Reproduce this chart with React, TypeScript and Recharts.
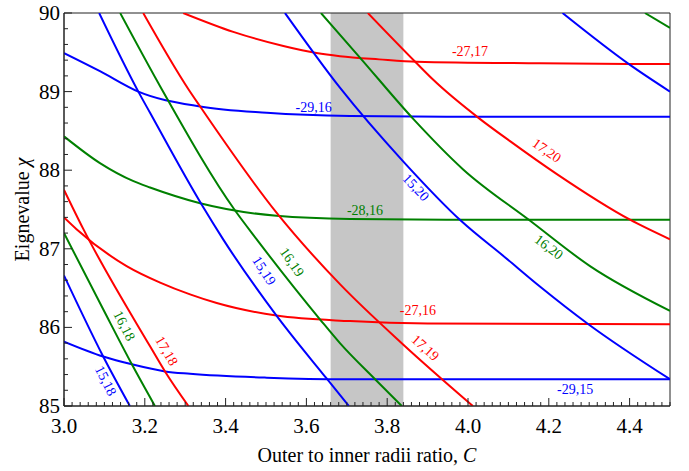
import { LineChart, Line, XAxis, YAxis, ReferenceArea, ReferenceDot } from 'recharts'

// axis ticks
const xTickLabels = [3.0, 3.2, 3.4, 3.6, 3.8, 4.0, 4.2, 4.4]
const yTickLabels = [85, 86, 87, 88, 89, 90]

// shaded band on C
const bandRange = [3.66, 3.84]

// curves, [C, eigenvalue]
const m2717 = [[3.295, 90], [3.419, 89.76], [3.543, 89.58], [3.625, 89.49], [3.683, 89.45], [3.78, 89.41], [3.873, 89.38], [4.178, 89.36], [4.5, 89.35]]
const m2916 = [[3.0, 89.49], [3.089, 89.26], [3.184, 89.0], [3.337, 88.81], [3.502, 88.73], [3.708, 88.69], [4.0, 88.68], [4.5, 88.68]]
const m2816 = [[3.0, 88.43], [3.089, 88.09], [3.172, 87.86], [3.213, 87.78], [3.337, 87.58], [3.526, 87.42], [3.708, 87.38], [4.0, 87.37], [4.5, 87.37]]
const m2716 = [[3.0, 87.4], [3.031, 87.25], [3.155, 86.78], [3.238, 86.57], [3.312, 86.42], [3.378, 86.31], [3.526, 86.15], [3.708, 86.08], [3.9, 86.05], [4.5, 86.04]]
const m2915 = [[3.0, 85.82], [3.097, 85.63], [3.168, 85.53], [3.25, 85.44], [3.312, 85.41], [3.502, 85.36], [3.7, 85.34], [4.5, 85.34]]

const c1518 = [[3.0, 86.66], [3.097, 85.63], [3.163, 85.0]]
const c1618 = [[3.0, 87.2], [3.097, 86.23], [3.168, 85.53], [3.225, 85.0]]
const c1718 = [[3.0, 87.75], [3.048, 87.25], [3.213, 85.76], [3.25, 85.44], [3.308, 85.0]]
const c1519 = [[3.087, 90], [3.184, 89.0], [3.213, 88.73], [3.341, 87.56], [3.394, 87.12], [3.526, 86.15], [3.65, 85.35], [3.705, 85.0]]
const c1619 = [[3.139, 90], [3.242, 89.03], [3.423, 87.49], [3.477, 87.12], [3.634, 86.1], [3.683, 85.8], [3.77, 85.34], [3.836, 85.0]]
const c1719 = [[3.196, 90], [3.308, 89.03], [3.337, 88.81], [3.526, 87.46], [3.683, 86.55], [3.84, 85.78], [4.012, 85.0]]
const c1520 = [[3.547, 90], [3.683, 89.05], [3.84, 88.11], [3.984, 87.35], [4.092, 86.89], [4.178, 86.52], [4.298, 86.04], [4.5, 85.34]]
const c1620 = [[3.636, 90], [3.733, 89.43], [3.865, 88.65], [3.988, 88.01], [4.153, 87.36], [4.302, 86.78], [4.5, 86.21]]
const c1720 = [[3.752, 90], [3.873, 89.36], [3.914, 89.15], [4.03, 88.65], [4.104, 88.37], [4.22, 87.95], [4.401, 87.37], [4.5, 87.12]]
const c1521 = [[4.234, 90], [4.401, 89.34], [4.5, 89.0]]
const c1621 = [[4.438, 90], [4.5, 89.81]]

// curve labels: text, C, eigenvalue, rotation, colour
const curveLabels: [string, number, number, number, string][] = [
  ['-27,17', 4.005, 89.51, 0, 'red'],
  ['-29,16', 3.618, 88.8, 0, 'blue'],
  ['-28,16', 3.745, 87.49, 0, 'green'],
  ['-27,16', 3.876, 86.21, 0, 'red'],
  ['-29,15', 4.265, 85.21, 0, 'blue'],
  ['17,20', 4.195, 88.25, 35, 'red'],
  ['15,20', 3.871, 87.78, 47, 'blue'],
  ['16,20', 4.2, 87.02, 37, 'green'],
  ['17,19', 3.894, 85.74, 42, 'red'],
  ['16,19', 3.564, 86.83, 55, 'green'],
  ['15,19', 3.495, 86.72, 57, 'blue'],
  ['17,18', 3.254, 85.7, 60, 'red'],
  ['16,18', 3.149, 86.02, 63, 'green'],
  ['15,18', 3.103, 85.32, 63, 'blue'],
]

const COLORS: Record<string, string> = { red: '#ff0000', blue: '#0000ff', green: '#008000' }
const FONT = '"Liberation Serif", "Times New Roman", serif'

const series: [number[][], string][] = [
  [m2717, 'red'], [m2916, 'blue'], [m2816, 'green'], [m2716, 'red'], [m2915, 'blue'],
  [c1518, 'blue'], [c1618, 'green'], [c1718, 'red'],
  [c1519, 'blue'], [c1619, 'green'], [c1719, 'red'],
  [c1520, 'blue'], [c1620, 'green'], [c1720, 'red'],
  [c1521, 'blue'], [c1621, 'green'],
]

const toPoints = (arr: number[][]) => arr.map(([x, y]) => ({ x, y }))

// minor ticks every 0.02 on C, every 0.2 on eigenvalue
const xMinor = Array.from({ length: 76 }, (_, i) => +(3 + i * 0.02).toFixed(2))
const yMinor = Array.from({ length: 26 }, (_, i) => +(85 + i * 0.2).toFixed(1))

const isMajorX = (v: number) => xTickLabels.some(t => Math.abs(t - v) < 1e-6)
const isMajorY = (v: number) => yTickLabels.some(t => Math.abs(t - v) < 1e-6)

const XTick = (props: any) => {
  const { x, y, payload } = props
  const major = isMajorX(payload.value)
  return (
    <g>
      <line x1={x} x2={x} y1={y} y2={y - (major ? 8 : 4)} stroke="#222" strokeWidth={1} />
      {major && (
        <text x={x} y={y + 27} textAnchor="middle" fontSize={21} fontFamily={FONT} fill="#000">
          {payload.value.toFixed(1)}
        </text>
      )}
    </g>
  )
}

const YTick = (props: any) => {
  const { x, y, payload } = props
  const major = isMajorY(payload.value)
  return (
    <g>
      <line x1={x} x2={x + (major ? 8 : 4)} y1={y} y2={y} stroke="#222" strokeWidth={1} />
      {major && (
        <text x={x - 4} y={y + 7} textAnchor="end" fontSize={21} fontFamily={FONT} fill="#000">
          {payload.value}
        </text>
      )}
    </g>
  )
}

export default function App() {
  return (
    <div style={{ position: 'absolute', left: 0, top: 0, background: '#fff' }}>
      <LineChart width={689} height={471} margin={{ top: 13, right: 19, bottom: 0, left: 0 }}>
        <XAxis
          type="number"
          dataKey="x"
          domain={[3, 4.5]}
          ticks={xMinor}
          interval={0}
          allowDataOverflow
          height={65}
          tickSize={0}
          tickMargin={0}
          tickLine={false}
          axisLine={{ stroke: '#222' }}
          tick={<XTick />}
          label={({ viewBox }: any) => (
            <text x={viewBox.x + viewBox.width / 2} y={viewBox.y + 56} textAnchor="middle" fontSize={20} fontFamily={FONT} fill="#000">
              Outer to inner radii ratio, <tspan fontStyle="italic">C</tspan>
            </text>
          )}
        />
        <YAxis
          type="number"
          domain={[85, 90]}
          ticks={yMinor}
          interval={0}
          allowDataOverflow
          width={64}
          tickSize={0}
          tickMargin={0}
          tickLine={false}
          axisLine={{ stroke: '#222' }}
          tick={<YTick />}
          label={({ viewBox }: any) => {
            const cx = 22
            const cy = viewBox.y + viewBox.height / 2
            return (
              <text x={cx} y={cy} transform={`rotate(-90 ${cx} ${cy})`} textAnchor="middle" dominantBaseline="central" fontSize={20} fontFamily={FONT} fill="#000">
                Eignevalue <tspan fontStyle="italic">χ</tspan>
              </text>
            )
          }}
        />
        <ReferenceArea x1={bandRange[0]} x2={bandRange[1]} y1={85} y2={90} fill="#c6c6c6" fillOpacity={1} stroke="none" />
        {series.map(([arr, c], i) => (
          <Line
            key={i}
            data={toPoints(arr)}
            dataKey="y"
            type="monotone"
            stroke={COLORS[c]}
            strokeWidth={2}
            dot={false}
            activeDot={false}
            isAnimationActive={false}
          />
        ))}
        <ReferenceArea x1={3} x2={4.5} y1={85} y2={90} fill="none" stroke="#222" strokeWidth={1} />
        {curveLabels.map(([text, x, y, angle, c]) => (
          <ReferenceDot
            key={text}
            x={x}
            y={y}
            r={0}
            shape={(p: any) => (
              <text
                x={p.cx}
                y={p.cy}
                transform={`rotate(${angle} ${p.cx} ${p.cy})`}
                textAnchor="middle"
                dominantBaseline="central"
                fontSize={14}
                fontFamily={FONT}
                fill={COLORS[c]}
              >
                {text}
              </text>
            )}
          />
        ))}
      </LineChart>
    </div>
  )
}
